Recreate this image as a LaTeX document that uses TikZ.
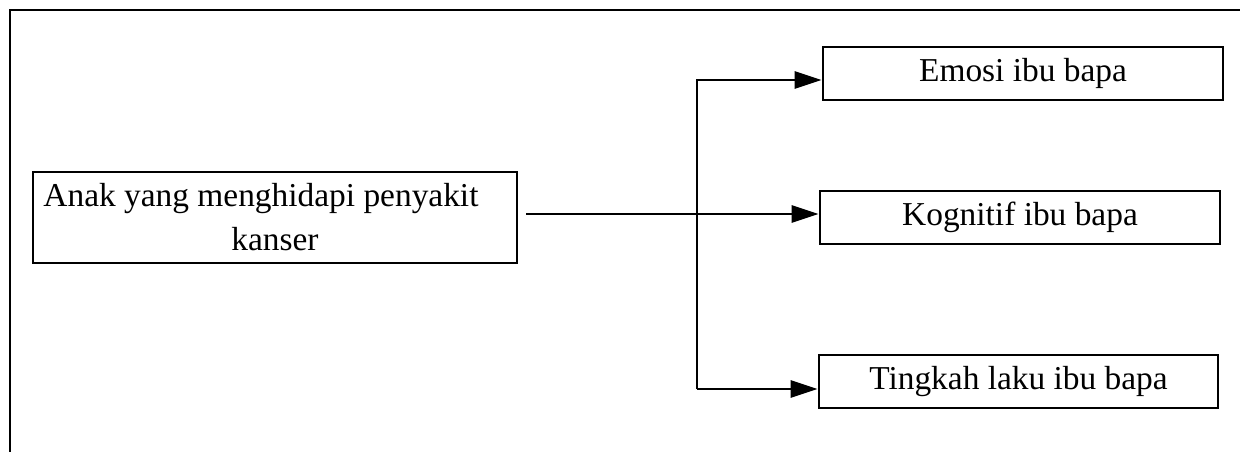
\documentclass[tikz,border=0pt]{standalone}
\usepackage{fontspec}
\setmainfont{Liberation Serif}
\usetikzlibrary{arrows.meta}
\newcommand{\diafont}{\fontsize{16.7pt}{22pt}\selectfont}
\begin{document}
\begin{tikzpicture}[x=0.5pt,y=-0.5pt,
  box/.style={draw, line width=1.4pt, inner sep=0pt, align=center, font=\diafont},
  conn/.style={line width=1.4pt, line join=miter, -{Triangle[length=13.5pt,width=8.5pt]}},
  frameline/.style={line width=1.4pt}]
\useasboundingbox (0,0) rectangle (1240,452);
\draw[frameline] (1240,10) -- (10,10) -- (10,452);
\node[box, minimum width=242pt, minimum height=45.5pt] (src) at (275,217.5)
  {Anak yang menghidapi penyakit\rule{14pt}{0pt}\\kanser};
\node[box, minimum width=200pt, minimum height=26.5pt] (emo) at (1023,73.5) {Emosi ibu bapa};
\node[box, minimum width=200pt, minimum height=26.5pt] (kog) at (1020,217.5) {Kognitif ibu bapa};
\node[box, minimum width=199.5pt, minimum height=26.5pt] (tin) at (1018.5,381.5) {Tingkah laku ibu bapa};
\coordinate (jt) at (697,80);
\coordinate (jm) at (697,214);
\coordinate (jb) at (697,389);
\draw[conn] ([xshift=4pt]src.east |- jm) -- (kog.west |- jm);
\draw[conn] (jb) -- (jt) -- (emo.west |- jt);
\draw[conn] (jb) -- (tin.west |- jb);
\end{tikzpicture}
\end{document}
